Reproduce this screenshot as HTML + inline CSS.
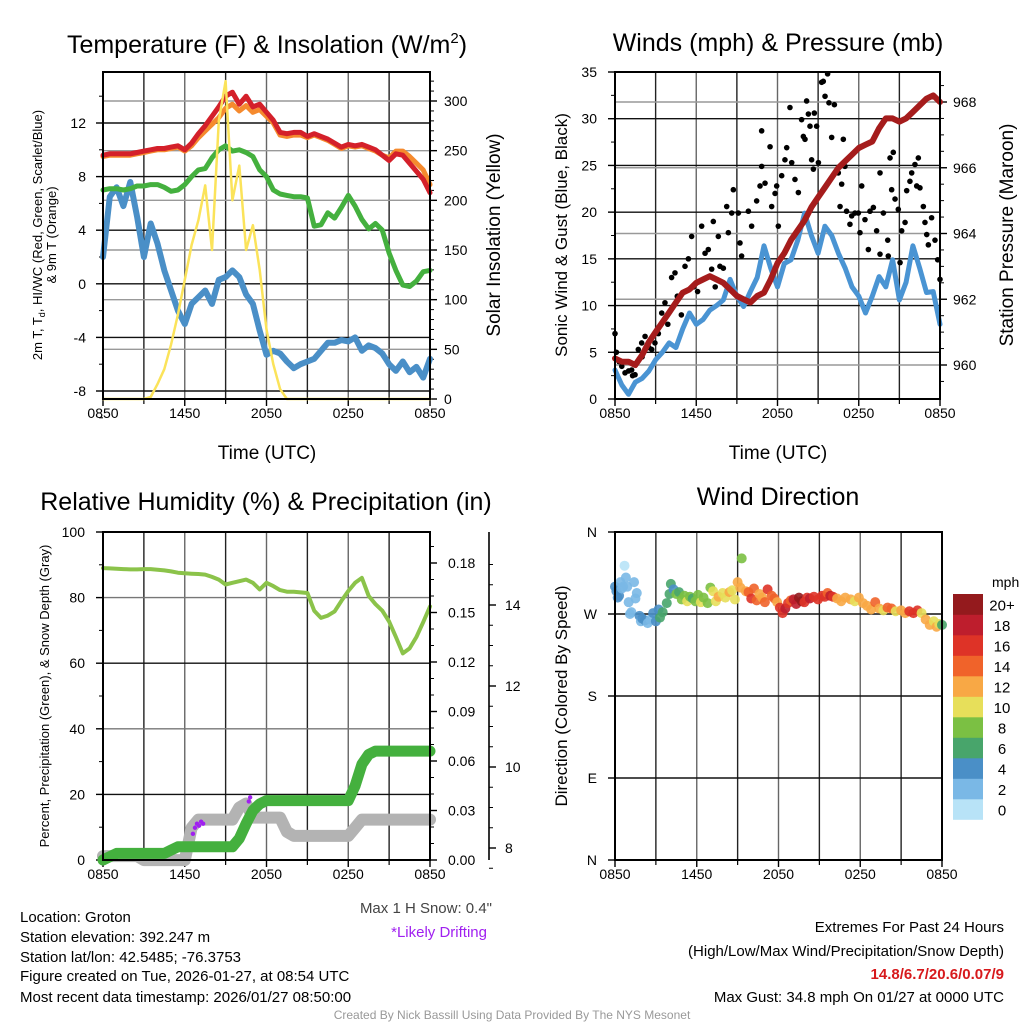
<!DOCTYPE html>
<html><head><meta charset="utf-8">
<style>
html,body{margin:0;padding:0;background:#fff;}
svg{display:block;font-family:"Liberation Sans",Arial,sans-serif;}
</style></head>
<body>
<svg id="fig" width="1024" height="1024" viewBox="0 0 1024 1024" xmlns="http://www.w3.org/2000/svg">
<rect x="0" y="0" width="1024" height="1024" fill="#fff"/>
<!-- titles -->
<text x="267" y="53" font-size="25" text-anchor="middle">Temperature (F) &amp; Insolation (W/m<tspan font-size="15" dy="-10">2</tspan><tspan dy="10">)</tspan></text>
<text x="778" y="51" font-size="25" text-anchor="middle">Winds (mph) &amp; Pressure (mb)</text>
<text x="266" y="510" font-size="25" text-anchor="middle">Relative Humidity (%) &amp; Precipitation (in)</text>
<text x="778" y="505" font-size="25" text-anchor="middle">Wind Direction</text>
<text x="267" y="459" font-size="19" text-anchor="middle">Time (UTC)</text>
<text x="778" y="459" font-size="19" text-anchor="middle">Time (UTC)</text>
<text transform="translate(42,235) rotate(-90)" font-size="13" text-anchor="middle">2m T, T<tspan font-size="9" dy="3">d</tspan><tspan dy="-3">, HI/WC (Red, Green, Scarlet/Blue)</tspan></text>
<text transform="translate(56,235) rotate(-90)" font-size="13" text-anchor="middle">&amp; 9m T (Orange)</text>
<text transform="translate(500,235) rotate(-90)" font-size="19" text-anchor="middle">Solar Insolation (Yellow)</text>
<text transform="translate(567,235) rotate(-90)" font-size="17" text-anchor="middle">Sonic Wind &amp; Gust (Blue, Black)</text>
<text transform="translate(1013,235) rotate(-90)" font-size="19" text-anchor="middle">Station Pressure (Maroon)</text>
<text transform="translate(49,696) rotate(-90)" font-size="13" text-anchor="middle">Percent, Precipitation (Green), &amp; Snow Depth (Gray)</text>
<text transform="translate(567,696) rotate(-90)" font-size="17" text-anchor="middle">Direction (Colored By Speed)</text>
<!-- footer texts -->
<g font-size="15">
<text x="20" y="922">Location: Groton</text>
<text x="20" y="942">Station elevation: 392.247 m</text>
<text x="20" y="962">Station lat/lon: 42.5485; -76.3753</text>
<text x="20" y="981">Figure created on Tue, 2026-01-27, at 08:54 UTC</text>
<text x="20" y="1002">Most recent data timestamp: 2026/01/27 08:50:00</text>
</g>
<text x="492" y="913" font-size="15" fill="#444" text-anchor="end">Max 1 H Snow: 0.4"</text>
<text x="487" y="937" font-size="15" fill="#a020f0" text-anchor="end">*Likely Drifting</text>
<text x="1004" y="932" font-size="15" text-anchor="end">Extremes For Past 24 Hours</text>
<text x="1004" y="956" font-size="15" text-anchor="end">(High/Low/Max Wind/Precipitation/Snow Depth)</text>
<text x="1004" y="979" font-size="15" font-weight="bold" fill="#d7191c" text-anchor="end">14.8/6.7/20.6/0.07/9</text>
<text x="1004" y="1002" font-size="15" text-anchor="end">Max Gust: 34.8 mph On 01/27 at 0000 UTC</text>
<text x="512" y="1019" font-size="12" fill="#999" text-anchor="middle">Created By Nick Bassill Using Data Provided By The NYS Mesonet</text>
</svg>
<script>
// ---------- data ----------
const timeLabels = ["0850","1450","2050","0250","0850"];
const tempTicks = [-8,-4,0,4,8,12];
const solarTicks = [0,50,100,150,200,250,300];
const windTicks = [0,5,10,15,20,25,30,35];
const presTicks = [960,962,964,966,968];
const rhTicks = [0,20,40,60,80,100];
const precipTicks = ["0.00","0.03","0.06","0.09","0.12","0.15","0.18"];
const snowTicks = [8,10,12,14];
const dirLabels = ["N","E","S","W","N"];
const speedBins = ["0","2","4","6","8","10","12","14","16","18","20+"];

const temp2m = [9.6,9.7,9.7,9.7,9.7,9.8,9.9,10.0,10.1,10.1,10.2,10.3,10.0,10.5,11.2,11.8,12.5,13.2,14.0,14.3,13.4,14.0,13.2,13.4,12.8,12.2,11.3,11.2,11.3,11.3,11.0,11.2,11.0,10.8,10.5,10.2,10.4,10.3,10.4,10.2,10.0,9.6,9.2,9.7,9.6,9.0,8.4,7.8,6.8];
const temp9m = [9.5,9.6,9.6,9.6,9.6,9.7,9.8,9.9,10.0,10.0,10.1,10.2,9.9,10.3,10.9,11.4,11.9,12.4,13.1,13.4,12.9,13.3,12.8,13.0,12.5,12.0,11.1,11.0,11.1,11.1,10.9,11.1,10.9,10.7,10.4,10.1,10.3,10.2,10.3,10.1,9.9,9.6,9.4,9.9,9.9,9.5,9.0,8.5,7.4];
const dewpoint = [7.0,7.1,7.1,7.0,7.1,7.3,7.3,7.4,7.4,7.2,6.9,7.0,7.4,8.0,8.5,8.6,9.4,10.0,10.3,9.9,10.0,9.8,9.5,8.5,8.0,7.0,6.7,6.6,6.5,6.5,6.4,4.3,4.4,5.3,4.9,5.7,6.6,5.8,4.8,4.1,4.5,4.0,2.3,1.0,-0.1,-0.2,0.2,0.9,1.0];
const windChill = [2.0,6.5,7.2,5.8,7.6,5.0,2.0,4.5,3.0,1.0,-0.5,-2.0,-3.0,-1.5,-1.0,-0.5,-1.5,0.3,0.5,1.0,0.5,-0.8,-1.5,-3.5,-5.3,-5.0,-5.2,-5.8,-6.3,-6.0,-5.8,-5.6,-5.0,-4.4,-4.4,-4.2,-4.3,-4.0,-5.0,-4.6,-4.8,-5.2,-6.0,-6.5,-5.8,-6.6,-6.2,-7.0,-5.6];
const insolation = [0,0,0,0,0,0,0,2,15,30,55,85,120,155,180,215,150,280,320,200,235,150,175,130,70,35,10,0,0,0,0,0,0,0,0,0,0,0,0,0,0,0,0,0,0,0,0,0,0];

const windSpeed = [3.1,1.5,0.5,1.8,2.2,3.0,4.2,5.0,6.0,5.5,7.5,9.2,8.0,8.5,9.5,10.0,10.6,12.8,11.0,9.9,11.5,13.0,16.4,14.0,12.0,14.5,14.9,17.0,19.9,17.5,15.6,18.5,17.5,15.6,14.0,12.0,11.0,9.2,11.0,13.1,12.0,14.9,10.6,12.5,16.4,14.0,11.4,11.5,8.0];
const pressure = [960.2,960.1,960.1,960.0,960.3,960.7,961.0,961.3,961.6,961.9,962.2,962.3,962.5,962.6,962.7,962.6,962.5,962.3,962.1,962.0,961.9,962.1,962.2,962.6,963.1,963.4,963.8,964.1,964.4,964.8,965.1,965.4,965.7,966.0,966.2,966.4,966.6,966.7,966.8,967.2,967.5,967.5,967.4,967.5,967.7,967.9,968.1,968.2,968.0];
const gustHours = [0,0.1,0.3,0.5,0.74,1.0,1.23,1.3,1.48,1.72,1.97,2.0,2.22,2.5,2.71,2.95,3.2,3.45,3.69,3.9,4.18,4.43,4.6,4.9,5.17,5.42,5.66,5.8,6.1,6.4,6.65,6.89,7.14,7.26,7.4,7.63,7.75,8.0,8.25,8.37,8.62,8.74,9.11,9.23,9.35,9.85,10.09,10.46,10.71,10.83,10.83,11.08,11.45,11.57,11.82,11.94,12.06,12.31,12.55,12.68,12.92,13.05,13.29,13.54,13.78,13.91,14.03,14.15,14.28,14.4,14.52,14.65,14.72,14.89,15.02,15.26,15.38,15.51,15.7,15.8,16.0,16.2,16.49,16.62,16.74,16.86,16.98,17.1,17.35,17.48,17.72,17.97,18.09,18.22,18.46,18.71,18.83,19.08,19.32,19.57,19.57,19.82,20.14,20.18,20.31,20.43,20.55,20.68,20.92,21.05,21.17,21.42,21.54,21.78,21.91,22.15,22.28,22.4,22.52,22.77,22.89,23.02,23.14,23.38,23.63,23.83,24.0];
const gustValues = [7,5,4,3.5,2.8,3,3.1,2.5,2.6,5.3,6,4.5,6.7,5.5,5.3,6,7,9.2,10.3,8,13,13.5,11,9,14.2,15,17.4,12,11.5,18.5,15.6,16,13.9,19,12,17.4,14.2,14,20.6,17.8,19.9,22.4,19.9,16.7,15.3,20.1,18.5,21.2,22.8,24.9,28.7,23.1,27,20.6,22,22.8,18.5,23.9,25.6,26.9,31.2,25.3,23.5,22.1,29.9,28.1,27.8,31.9,30.5,29.2,25.6,24.6,30.6,29.2,25.3,33.9,34,32.4,34.8,31.7,28,31.5,24.2,20.6,23,27.8,24.9,20.1,18.7,19.6,19.9,19.9,17.8,22.8,19.2,16,20.1,20.5,18,24.2,15.5,19.9,17,15.3,25.8,22.4,26.4,21.4,20.3,14.6,18,18.9,22.3,23.3,24.2,25.1,22.8,25.8,22.6,20.6,18.9,17.6,16.5,19.4,17,14.9,12.8];

const relHumidity = [89,88.9,88.8,88.7,88.6,88.6,88.7,88.7,88.5,88.3,88.0,87.6,87.4,87.3,87.2,87.0,86.3,85.5,84.0,84.5,85.0,85.5,84.5,82.5,84.5,83.5,82.3,81.8,81.8,81.6,81.4,76.0,73.8,74.5,75.8,79.0,82.0,84.5,86.0,80.5,78.0,76.0,72.7,68.0,63.0,64.5,68.0,72.5,77.3];
const precip = [0,0.002,0.004,0.004,0.004,0.004,0.004,0.004,0.004,0.004,0.006,0.008,0.008,0.008,0.008,0.008,0.008,0.008,0.008,0.008,0.013,0.022,0.030,0.034,0.036,0.036,0.036,0.036,0.036,0.036,0.036,0.036,0.036,0.036,0.036,0.036,0.036,0.045,0.058,0.064,0.066,0.066,0.066,0.066,0.066,0.066,0.066,0.066,0.066];
const snowDepth = [7.8,7.8,7.8,7.8,7.8,7.8,7.7,7.7,7.7,7.7,7.7,7.7,7.7,8.5,8.7,8.7,8.7,8.7,8.7,8.7,9.0,9.1,8.75,8.75,8.75,8.75,8.75,8.4,8.3,8.3,8.3,8.3,8.3,8.3,8.3,8.3,8.3,8.5,8.7,8.7,8.7,8.7,8.7,8.7,8.7,8.7,8.7,8.7,8.7];
const driftHours = [6.6,6.75,6.9,7.05,7.2,7.35,10.7,10.8];
const driftSnow = [8.35,8.5,8.6,8.55,8.65,8.6,9.15,9.25];

const dirHours = [0.0,0.1,0.2,0.3,0.4,0.5,0.6,0.7,0.8,0.9,1.0,1.1,1.2,1.4,1.5,1.6,1.8,1.9,2.0,2.2,2.4,2.6,2.8,3.0,3.2,3.3,3.5,3.8,4.0,4.1,4.3,4.5,4.7,4.9,5.1,5.3,5.5,5.7,5.9,6.1,6.3,6.5,6.8,7.0,7.2,7.4,7.6,7.9,8.1,8.4,8.6,8.8,9.0,9.2,9.3,9.6,9.8,10.0,10.2,10.4,10.6,10.8,11.0,11.2,11.5,11.7,11.9,12.1,12.3,12.5,12.7,12.9,13.1,13.3,13.5,13.7,13.9,14.1,14.3,14.6,14.9,15.2,15.4,15.6,15.8,16.0,16.3,16.6,16.9,17.3,17.6,17.9,18.2,18.5,18.8,19.1,19.4,19.7,20.0,20.3,20.6,21.0,21.3,21.6,21.9,22.2,22.5,22.8,23.1,23.4,23.6,23.8,24.0];
const dirDegrees = [300,295,288,290,305,298,300,323,310,300,283,270,272,305,287,293,268,262,265,263,260,264,271,262,275,266,272,282,292,303,297,292,294,286,290,284,289,287,284,291,283,288,282,299,295,284,289,293,288,294,296,286,305,299,331,295,294,287,298,285,292,288,283,297,290,287,283,277,271,276,282,285,286,281,288,284,283,288,287,289,286,290,289,293,290,289,287,284,288,286,284,288,282,279,275,283,276,274,277,276,273,274,271,273,271,274,271,264,258,262,256,259,258];
const dirSpeeds = [4,4,4,4,3,2,2,0,2,2,2,2,3,3,3,2,4,3,4,5,2,3,4,4,5,6,6,7,7,6,5,8,7,8,8,10,8,7,8,8,10,8,8,8,10,11,12,11,11,12,10,10,12,12,8,13,14,16,15,15,13,12,14,17,15,14,12,16,16,18,17,15,18,19,21,20,17,16,18,17,17,16,17,15,18,16,13,12,13,12,11,12,13,12,12,14,13,11,15,14,10,13,12,16,17,16,10,12,12,11,12,10,7];
const binColors = ["#b8e3f7","#7ab8e6","#4a8fc7","#48a56b","#7bc043","#e7df5a","#f8a845","#f0632a","#de3327","#be1e2d","#941a1d"];

// ---------- helpers ----------
const NS = "http://www.w3.org/2000/svg";
const svg = document.getElementById("fig");
function mk(tag, attrs, name, parent) {
  const e = document.createElementNS(NS, tag);
  for (const k in attrs) e.setAttribute(k, attrs[k]);
  
  
  (parent || svg).appendChild(e);
  return e;
}
function txt(x, y, s, anchor, size, name, parent, fill) {
  const t = mk("text", {x: x, y: y, "text-anchor": anchor, "font-size": size, fill: fill || "#000"}, name, parent);
  t.textContent = s;
  return t;
}
function scale(d0, d1, r0, r1) { return v => r0 + (v - d0) / (d1 - d0) * (r1 - r0); }
function idxHours(n) { const a = []; for (let i = 0; i < n; i++) a.push(i * 0.5); return a; }
function poly(xs, ys, xf, yf, color, w, name, g) {
  const pts = xs.map((h, i) => xf(h).toFixed(1) + "," + yf(ys[i]).toFixed(1)).join(" ");
  return mk("polyline", {points: pts, fill: "none", stroke: color, "stroke-width": w, "stroke-linejoin": "round", "stroke-linecap": "round"}, name, g);
}
const H = idxHours(49);

function panel(name, L, T, R, B, xf) {
  const g = mk("g", {}, name);
  const gg = mk("g", {}, name + "-grid", g);
  for (let h = 3; h < 24; h += 3) {
    mk("line", {x1: xf(h), x2: xf(h), y1: T, y2: B, stroke: (h % 6 === 0) ? "#666" : "#222", "stroke-width": 1.4}, "vertical-gridline", gg);
  }
  for (let i = 0; i < 5; i++) {
    const x = xf(i * 6);
    mk("line", {x1: x, x2: x, y1: B, y2: B + 7, stroke: "#000", "stroke-width": 1.4}, "x-tick", g);
    txt(x, B + 19, timeLabels[i], "middle", 14, "x-tick-label", g);
    if (i < 4) mk("line", {x1: xf(i * 6 + 3), x2: xf(i * 6 + 3), y1: B, y2: B + 5, stroke: "#000", "stroke-width": 1.2}, "x-minor-tick", g);
  }
  return g;
}
function frame(g, L, T, R, B) {
  mk("rect", {x: L, y: T, width: R - L, height: B - T, fill: "none", stroke: "#000", "stroke-width": 2}, "plot-frame", g);
}

// ---------- Panel 1: temperature ----------
{
  const L = 103, R = 430, T = 72, B = 399;
  const x = scale(0, 24, L, R), yT = scale(-8, 12, 391, 123), yS = scale(0, 300, 399, 101);
  const g = panel("temperature-panel", L, T, R, B, x);
  solarTicks.forEach(v => { mk("line", {x1: L, x2: R, y1: yS(v), y2: yS(v), stroke: "#999", "stroke-width": 1.4}, "right-gridline", g); });
  tempTicks.forEach(v => {
    mk("line", {x1: L, x2: R, y1: yT(v), y2: yT(v), stroke: "#111", "stroke-width": 1.4}, "temp-gridline", g);
    mk("line", {x1: L - 7, x2: L, y1: yT(v), y2: yT(v), stroke: "#000", "stroke-width": 1.4}, "temp-tick", g);
    txt(L - 17, yT(v) + 5, String(v), "end", 14, "temp-tick-label", g);
  });
  for (let v = -10; v <= 14; v += 2) if (v % 4 !== 0) mk("line", {x1: L - 4, x2: L, y1: yT(v), y2: yT(v), stroke: "#000"}, "temp-minor-tick", g);
  solarTicks.forEach(v => {
    mk("line", {x1: R, x2: R + 7, y1: yS(v), y2: yS(v), stroke: "#000", "stroke-width": 1.4}, "solar-tick", g);
    txt(R + 14, yS(v) + 5, String(v), "start", 14, "solar-tick-label", g);
  });
  for (let v = 10; v <= 320; v += 10) if (v % 50 !== 0) mk("line", {x1: R, x2: R + 4, y1: yS(v), y2: yS(v), stroke: "#000"}, "solar-minor-tick", g);
  poly(H, windChill, x, yT, "#4a8fc7", 6, "windchill-line", g);
  poly(H, dewpoint, x, yT, "#44b03e", 5, "dewpoint-line", g);
  poly(H, temp9m, x, yT, "#f58a2e", 5, "temp-9m-line", g);
  poly(H, temp2m, x, yT, "#d4202a", 5, "temp-2m-line", g);
  poly(H, insolation, x, yS, "#fbe35a", 2.5, "insolation-line", g);
  frame(g, L, T, R, B);
}

// ---------- Panel 2: winds ----------
{
  const L = 615, R = 940, T = 72, B = 399;
  const x = scale(0, 24, L, R), yW = scale(0, 35, 399, 72), yP = scale(960, 968, 365, 102);
  const g = panel("winds-panel", L, T, R, B, x);
  presTicks.forEach(v => { mk("line", {x1: L, x2: R, y1: yP(v), y2: yP(v), stroke: "#999", "stroke-width": 1.4}, "pressure-gridline", g); });
  windTicks.forEach(v => {
    mk("line", {x1: L, x2: R, y1: yW(v), y2: yW(v), stroke: "#111", "stroke-width": 1.4}, "wind-gridline", g);
    mk("line", {x1: L - 7, x2: L, y1: yW(v), y2: yW(v), stroke: "#000", "stroke-width": 1.4}, "wind-tick", g);
    txt(L - 18, yW(v) + 5, String(v), "end", 14, "wind-tick-label", g);
  });
  for (let v = 2.5; v < 35; v += 5) mk("line", {x1: L - 4, x2: L, y1: yW(v), y2: yW(v), stroke: "#000"}, "wind-minor-tick", g);
  presTicks.forEach(v => {
    mk("line", {x1: R, x2: R + 7, y1: yP(v), y2: yP(v), stroke: "#000", "stroke-width": 1.4}, "pressure-tick", g);
    txt(R + 13, yP(v) + 5, String(v), "start", 14, "pressure-tick-label", g);
  });
  for (let v = 959.5; v <= 968.6; v += 0.5) if (Math.abs(v % 2) > 0.01) mk("line", {x1: R, x2: R + 4, y1: yP(v), y2: yP(v), stroke: "#000"}, "pressure-minor-tick", g);
  poly(H, windSpeed, x, yW, "#4a94d3", 5, "wind-speed-line", g);
  const gd = mk("g", {}, "gust-points", g);
  gustHours.forEach((h, i) => {
    mk("circle", {cx: x(h), cy: yW(gustValues[i]), r: 2.8, fill: "#000"}, "gust-point", gd);
  });
  poly(H, pressure, x, yP, "#a51c1c", 6, "pressure-line", g);
  frame(g, L, T, R, B);
}

// ---------- Panel 3: humidity & precipitation ----------
{
  const L = 103, R = 430, T = 532, B = 860;
  const x = scale(0, 24, L, R), yR = scale(0, 100, 860, 532), yPr = scale(0, 0.18, 860, 563), ySn = scale(8, 14, 848, 605);
  const g = panel("humidity-panel", L, T, R, B, x);
  rhTicks.forEach((v, i) => {
    mk("line", {x1: L, x2: R, y1: yR(v), y2: yR(v), stroke: (i % 2 === 0) ? "#777" : "#111", "stroke-width": 1.4}, "rh-gridline", g);
    mk("line", {x1: L - 7, x2: L, y1: yR(v), y2: yR(v), stroke: "#000", "stroke-width": 1.4}, "rh-tick", g);
    txt(L - 18, yR(v) + 5, String(v), "end", 14, "rh-tick-label", g);
  });
  for (let v = 10; v < 100; v += 20) mk("line", {x1: L - 4, x2: L, y1: yR(v), y2: yR(v), stroke: "#000"}, "rh-minor-tick", g);
  precipTicks.forEach(s => {
    const v = parseFloat(s);
    mk("line", {x1: R, x2: R + 7, y1: yPr(v), y2: yPr(v), stroke: "#000", "stroke-width": 1.4}, "precip-tick", g);
    txt(R + 18, yPr(v) + 5, s, "start", 14, "precip-tick-label", g);
  });
  for (let v = 0.01; v < 0.2; v += 0.01) mk("line", {x1: R, x2: R + 4, y1: yPr(v), y2: yPr(v), stroke: "#000"}, "precip-minor-tick", g);
  mk("line", {x1: 489, x2: 489, y1: 532, y2: 860, stroke: "#000", "stroke-width": 1.6}, "snow-axis-line", g);
  snowTicks.forEach(v => {
    mk("line", {x1: 489, x2: 496, y1: ySn(v), y2: ySn(v), stroke: "#000", "stroke-width": 1.4}, "snow-tick", g);
    txt(505, ySn(v) + 5, String(v), "start", 14, "snow-tick-label", g);
  });
  for (let v = 7.5; v <= 15; v += 0.5) if (v % 2 !== 0) mk("line", {x1: 489, x2: 493, y1: ySn(v), y2: ySn(v), stroke: "#000"}, "snow-minor-tick", g);
  poly(H, snowDepth, x, ySn, "#b3b3b3", 12, "snow-depth-line", g);
  const pd = mk("g", {}, "drifting-points", g);
  driftHours.forEach((h, i) => {
    mk("circle", {cx: x(h), cy: ySn(driftSnow[i]), r: 2.2, fill: "#a020f0"}, "drift-point", pd);
  });
  poly(H, precip, x, yPr, "#44b03e", 11, "precip-line", g);
  poly(H, relHumidity, x, yR, "#8bc34a", 4, "rh-line", g);
  frame(g, L, T, R, B);
}

// ---------- Panel 4: wind direction ----------
{
  const L = 615, R = 942, T = 532, B = 860;
  const x = scale(0, 24, L, R), yD = scale(0, 360, 860, 532);
  const g = panel("wind-direction-panel", L, T, R, B, x);
  dirLabels.forEach((s, i) => {
    const v = i * 90;
    mk("line", {x1: L, x2: R, y1: yD(v), y2: yD(v), stroke: "#111", "stroke-width": 1.4}, "direction-gridline", g);
    mk("line", {x1: L - 7, x2: L, y1: yD(v), y2: yD(v), stroke: "#000", "stroke-width": 1.4}, "direction-tick", g);
    txt(L - 18, yD(v) + 5, s, "end", 14, "direction-tick-label", g);
  });
  const dd = mk("g", {}, "direction-points", g);
  dirHours.forEach((h, i) => {
    const b = Math.min(10, Math.floor(dirSpeeds[i] / 2));
    mk("circle", {cx: x(h), cy: yD(dirDegrees[i]), r: 5, fill: binColors[b], "fill-opacity": 0.9}, "direction-point", dd);
  });
  frame(g, L, T, R, B);
  const cb = mk("g", {}, "speed-colorbar", svg);
  txt(992, 587, "mph", "start", 14, "colorbar-title", cb);
  const top = 594, bh = 20.5;
  speedBins.forEach((s, i) => {
    const k = speedBins.length - 1 - i;
    mk("rect", {x: 953, y: top + k * bh, width: 30, height: bh + 0.3, fill: binColors[i]}, "colorbar-bin", cb);
    txt(1002, top + k * bh + bh / 2 + 6, s, "middle", 15, "colorbar-label", cb);
  });
}
</script>
</body></html>
